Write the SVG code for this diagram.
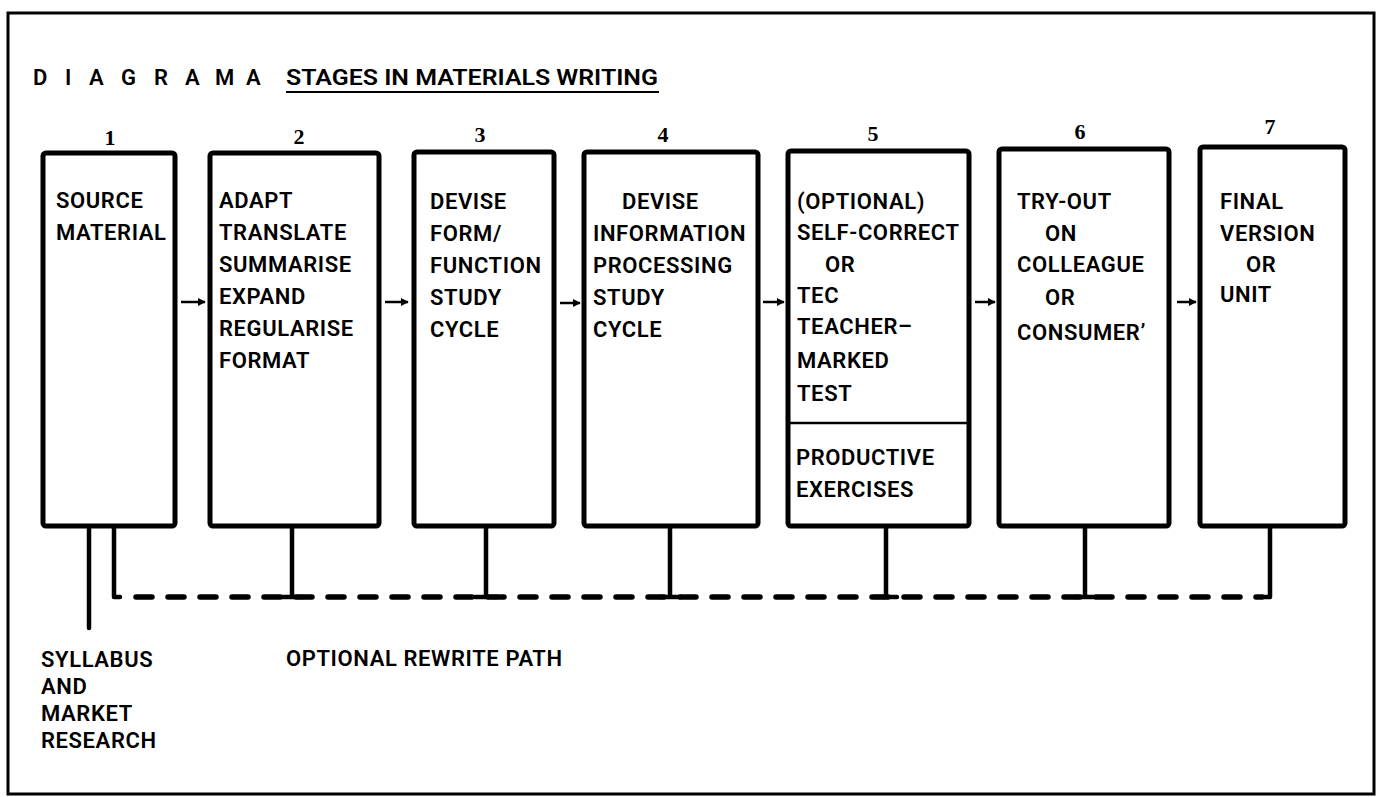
<svg xmlns="http://www.w3.org/2000/svg" width="1380" height="797" viewBox="0 0 1380 797">
<style>
.frame{fill:none;stroke:#000;stroke-width:3}
.box{fill:#fff;stroke:#000;stroke-width:5;stroke-linejoin:round}
.div{stroke:#000;stroke-width:2.5}
.t{font-family:Roboto,"Liberation Sans",sans-serif;font-weight:600;font-size:22px;letter-spacing:0.6px;fill:#000}
.num{font-family:"Liberation Serif",serif;font-weight:700;font-size:22px;fill:#000;text-anchor:middle}
.title{font-family:Roboto,"Liberation Sans",sans-serif;font-weight:600;font-size:22px;fill:#000}
.solid{fill:none;stroke:#000;stroke-width:4.5;stroke-linecap:round;stroke-linejoin:round}
.dash{fill:none;stroke:#000;stroke-width:5.5;stroke-linecap:round;stroke-dasharray:16 16}
.arr{stroke:#000;stroke-width:2.5}
</style>
<defs>
<marker id="ah" viewBox="0 0 10 10" refX="9" refY="5" markerWidth="3.2" markerHeight="3.2" orient="auto" markerUnits="strokeWidth">
<path d="M0,0 L10,5 L0,10 Z" fill="#000"/>
</marker>
</defs>
<rect width="1380" height="797" fill="#fff"/>
<rect class="frame" x="8" y="13" width="1366" height="781"/>

<g id="title">
<text class="title" y="85"><tspan x="33">D</tspan><tspan x="65">I</tspan><tspan x="89">A</tspan><tspan x="121">G</tspan><tspan x="154">R</tspan><tspan x="185">A</tspan><tspan x="215">M</tspan><tspan x="246">A</tspan></text>
<text class="title" x="286" y="85" textLength="372" lengthAdjust="spacingAndGlyphs">STAGES IN MATERIALS WRITING</text>
<line x1="286" y1="92" x2="659" y2="92" stroke="#000" stroke-width="2"/>
</g>

<g id="connectors">
<line class="arr" x1="181" y1="302" x2="205" y2="302" marker-end="url(#ah)"/>
<line class="arr" x1="385" y1="302" x2="408" y2="302" marker-end="url(#ah)"/>
<line class="arr" x1="560" y1="303" x2="580" y2="303" marker-end="url(#ah)"/>
<line class="arr" x1="763" y1="302" x2="784" y2="302" marker-end="url(#ah)"/>
<line class="arr" x1="975" y1="302" x2="995" y2="302" marker-end="url(#ah)"/>
<line class="arr" x1="1177" y1="302" x2="1196" y2="302" marker-end="url(#ah)"/>
<line class="solid" x1="89" y1="526" x2="89" y2="628"/>
<path class="solid" d="M114,526 V597 H120"/>
<path class="dash" d="M136,597 H1262"/>
<path class="solid" d="M1262,597 H1270 V526"/>
<path class="solid" d="M292,526 V597 M281,597 H303"/>
<path class="solid" d="M486,526 V597 M475,597 H497"/>
<path class="solid" d="M670,526 V597 M659,597 H681"/>
<path class="solid" d="M886,526 V597 M875,597 H897"/>
<path class="solid" d="M1085,526 V597 M1074,597 H1096"/>
</g>

<g id="n1">
<rect class="box" x="43" y="153" width="132" height="373" rx="3"/>
<text class="num" x="110" y="145">1</text>
<text class="t"><tspan x="56" y="208">SOURCE</tspan><tspan x="56" y="240">MATERIAL</tspan></text>
</g>

<g id="n2">
<rect class="box" x="210" y="153" width="169" height="373" rx="3"/>
<text class="num" x="299" y="144">2</text>
<text class="t"><tspan x="219" y="208">ADAPT</tspan><tspan x="219" y="240">TRANSLATE</tspan><tspan x="219" y="272">SUMMARISE</tspan><tspan x="219" y="304">EXPAND</tspan><tspan x="219" y="336">REGULARISE</tspan><tspan x="219" y="368">FORMAT</tspan></text>
</g>

<g id="n3">
<rect class="box" x="414" y="152" width="140" height="374" rx="3"/>
<text class="num" x="480" y="142">3</text>
<text class="t"><tspan x="430" y="209">DEVISE</tspan><tspan x="430" y="241">FORM/</tspan><tspan x="430" y="273">FUNCTION</tspan><tspan x="430" y="305">STUDY</tspan><tspan x="430" y="337">CYCLE</tspan></text>
</g>

<g id="n4">
<rect class="box" x="584" y="152" width="174" height="374" rx="3"/>
<text class="num" x="663" y="142">4</text>
<text class="t"><tspan x="622" y="209">DEVISE</tspan><tspan x="593" y="241">INFORMATION</tspan><tspan x="593" y="273">PROCESSING</tspan><tspan x="593" y="305">STUDY</tspan><tspan x="593" y="337">CYCLE</tspan></text>
</g>

<g id="n5">
<rect class="box" x="788" y="151" width="181" height="375" rx="3"/>
<line class="div" x1="788" y1="423" x2="969" y2="423"/>
<text class="num" x="873" y="141">5</text>
<text class="t"><tspan x="797" y="209">(OPTIONAL)</tspan><tspan x="797" y="240">SELF-CORRECT</tspan><tspan x="825" y="272">OR</tspan><tspan x="797" y="303">TEC</tspan><tspan x="797" y="334">TEACHER–</tspan><tspan x="797" y="368">MARKED</tspan><tspan x="797" y="401">TEST</tspan></text>
<text class="t"><tspan x="796" y="465">PRODUCTIVE</tspan><tspan x="796" y="497">EXERCISES</tspan></text>
</g>

<g id="n6">
<rect class="box" x="999" y="149" width="170" height="377" rx="3"/>
<text class="num" x="1080" y="139">6</text>
<text class="t"><tspan x="1017" y="209">TRY-OUT</tspan><tspan x="1045" y="241">ON</tspan><tspan x="1017" y="272">COLLEAGUE</tspan><tspan x="1045" y="305">OR</tspan><tspan x="1017" y="340">CONSUMER’</tspan></text>
</g>

<g id="n7">
<rect class="box" x="1200" y="147" width="145" height="379" rx="3"/>
<text class="num" x="1270" y="134">7</text>
<text class="t"><tspan x="1220" y="209">FINAL</tspan><tspan x="1220" y="241">VERSION</tspan><tspan x="1246" y="272">OR</tspan><tspan x="1220" y="302">UNIT</tspan></text>
</g>

<g id="labels">
<text class="t"><tspan x="41" y="667">SYLLABUS</tspan><tspan x="41" y="694">AND</tspan><tspan x="41" y="721">MARKET</tspan><tspan x="41" y="748">RESEARCH</tspan></text>
<text class="t" x="286" y="666">OPTIONAL REWRITE PATH</text>
</g>
</svg>
